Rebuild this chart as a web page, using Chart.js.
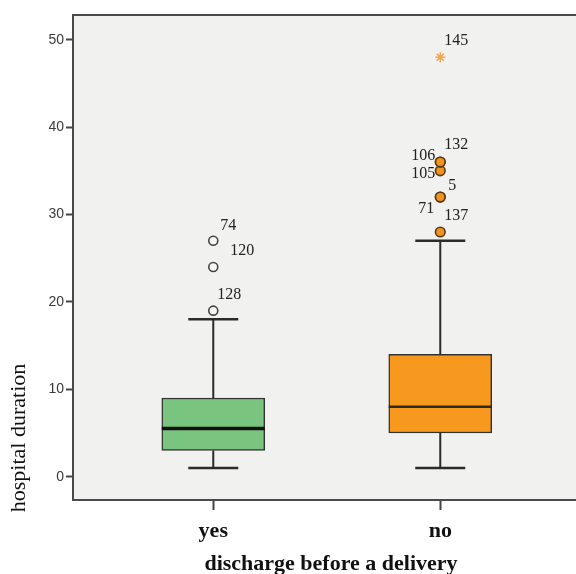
<!DOCTYPE html>
<html>
<head>
<meta charset="utf-8">
<script src="https://cdn.jsdelivr.net/npm/chart.js@4.4.1/dist/chart.umd.min.js"></script>
<style>
  html, body { margin: 0; padding: 0; background: #ffffff; overflow: hidden; }
  canvas { display: block; }
</style>
</head>
<body>
<canvas id="c" width="576" height="574" style="width:576px;height:574px"></canvas>
<script>
// ---- data ----
const categories   = ['yes', 'no'];
const whiskerLow   = [1, 1];
const q1           = [3, 5];
const median       = [5.5, 8];
const q3           = [9, 14];
const whiskerHigh  = [18, 27];

const outliersYes    = [19, 24, 27];
const outliersYesIds = ['128', '120', '74'];
const outliersNo     = [28, 32, 32, 35, 36, 36];
const outliersNoIds  = ['137', '71', '5', '105', '106', '132'];
const extremesNo     = [48];
const extremesNoIds  = ['145'];

const yTicks = [0, 10, 20, 30, 40, 50];

// label placement (pixel offsets from point, alignment) – styling only
const labelPlacement = {
  '128': [4, -16, 'left'], '120': [17, -16, 'left'], '74': [7, -15, 'left'],
  '137': [4, -16, 'left'], '71': [-6, 12, 'right'], '5': [8, -11, 'left'],
  '105': [-5, 3, 'right'], '106': [-5, -6, 'right'], '132': [4, -17, 'left'],
  '145': [4, -16, 'left']
};

const boxColors = ['#79c47e', '#f7981f'];
const catPos = categories.map((_, i) => i + 1);

const toPts = (vals, xi) => vals.map(v => ({ x: catPos[xi], y: v }));

const boxPlugin = {
  id: 'boxPlugin',
  beforeDraw(chart) {
    const { ctx, chartArea: a } = chart;
    ctx.save();
    ctx.fillStyle = '#f1f1f0';
    ctx.fillRect(a.left, a.top, a.right - a.left, a.bottom - a.top);
    ctx.restore();
  },
  afterDatasetsDraw(chart) {
    const { ctx, chartArea: a, scales: { x, y } } = chart;
    ctx.save();
    // top frame line
    ctx.strokeStyle = '#4a4a4a';
    ctx.lineWidth = 2;
    ctx.beginPath();
    ctx.moveTo(a.left - 1, a.top);
    ctx.lineTo(a.right, a.top);
    ctx.stroke();

    const capHalf = 25;
    const boxHalf = 51.5;
    categories.forEach((c, i) => {
      const cx = x.getPixelForValue(catPos[i]);
      ctx.strokeStyle = '#2b2b2b';
      ctx.lineWidth = 2;
      ctx.beginPath();
      ctx.moveTo(cx, y.getPixelForValue(whiskerLow[i]));
      ctx.lineTo(cx, y.getPixelForValue(q1[i]));
      ctx.moveTo(cx, y.getPixelForValue(q3[i]));
      ctx.lineTo(cx, y.getPixelForValue(whiskerHigh[i]));
      ctx.stroke();
      ctx.lineWidth = 2.5;
      ctx.beginPath();
      const yl = y.getPixelForValue(whiskerLow[i]);
      const yh = y.getPixelForValue(whiskerHigh[i]);
      ctx.moveTo(cx - capHalf, yl); ctx.lineTo(cx + capHalf, yl);
      ctx.moveTo(cx - capHalf, yh); ctx.lineTo(cx + capHalf, yh);
      ctx.stroke();
      // median
      ctx.strokeStyle = i === 0 ? '#111' : '#2b2b2b';
      ctx.lineWidth = i === 0 ? 3.5 : 2.5;
      const ym = y.getPixelForValue(median[i]);
      ctx.beginPath();
      ctx.moveTo(cx - boxHalf, ym); ctx.lineTo(cx + boxHalf, ym);
      ctx.stroke();
    });

    // outlier labels
    ctx.fillStyle = '#222';
    ctx.font = '16px "Liberation Serif", "DejaVu Serif", serif';
    ctx.textBaseline = 'middle';
    const drawLabels = (vals, ids, xi) => {
      vals.forEach((v, k) => {
        const px = x.getPixelForValue(catPos[xi]);
        const py = y.getPixelForValue(v);
        const p = labelPlacement[ids[k]];
        ctx.textAlign = p[2];
        ctx.fillText(ids[k], px + p[0], py + p[1]);
      });
    };
    drawLabels(outliersYes, outliersYesIds, 0);
    drawLabels(outliersNo, outliersNoIds, 1);
    drawLabels(extremesNo, extremesNoIds, 1);

    // axis titles
    ctx.fillStyle = '#111';
    ctx.textAlign = 'center';
    ctx.font = 'bold 22px "Liberation Serif", serif';
    ctx.fillText('discharge before a delivery', 331, 564);
    ctx.save();
    ctx.translate(19, 438);
    ctx.rotate(-Math.PI / 2);
    ctx.font = '22px "Liberation Serif", serif';
    ctx.fillText('hospital duration', 0, 0);
    ctx.restore();
    ctx.restore();
  }
};

new Chart(document.getElementById('c'), {
  data: {
    datasets: [
      {
        type: 'bar',
        data: categories.map((c, i) => ({ x: catPos[i], y: [q1[i], q3[i]] })),
        backgroundColor: boxColors,
        borderColor: '#333',
        borderWidth: 1.5,
        borderSkipped: false,
        barThickness: 103,
        order: 3
      },
      {
        type: 'scatter',
        data: toPts(outliersYes, 0),
        pointStyle: 'circle',
        pointRadius: 4.5,
        pointBackgroundColor: '#f6f6f6',
        pointBorderColor: '#444',
        pointBorderWidth: 1.6,
        order: 1
      },
      {
        type: 'scatter',
        data: toPts(outliersNo, 1),
        pointStyle: 'circle',
        pointRadius: 4.8,
        pointBackgroundColor: '#f29320',
        pointBorderColor: '#5a3a10',
        pointBorderWidth: 1.6,
        order: 1
      },
      {
        type: 'scatter',
        data: toPts(extremesNo, 1),
        pointStyle: 'star',
        pointRadius: 5,
        pointBorderColor: '#f5a54a',
        pointBackgroundColor: '#f5a54a',
        pointBorderWidth: 1.5,
        order: 1
      }
    ]
  },
  options: {
    responsive: false,
    animation: false,
    layout: { autoPadding: false, padding: { top: 15, left: 0, right: 0, bottom: 0 } },
    plugins: { legend: { display: false }, tooltip: { enabled: false } },
    scales: {
      x: {
        type: 'linear',
        offset: false,
        min: 0.382,
        max: 2.598,
        afterBuildTicks: s => { s.ticks = catPos.map(v => ({ value: v })); },
        afterFit: s => { s.height = 74; s.paddingRight = 0; s.paddingLeft = 0; },
        ticks: {
          callback: v => categories[v - 1] ?? '',
          color: '#111',
          font: { family: '"Liberation Serif", serif', size: 22, weight: 'bold' },
          padding: 8,
          maxRotation: 0,
          autoSkip: false
        },
        grid: { offset: false, drawOnChartArea: false, drawTicks: true, tickLength: 10, tickColor: '#444', tickWidth: 2 },
        border: { display: true, color: '#4a4a4a', width: 2 }
      },
      y: {
        type: 'linear',
        min: -2.67,
        max: 52.83,
        afterBuildTicks: s => { s.ticks = yTicks.map(v => ({ value: v })); },
        afterFit: s => { s.width = 73; s.paddingTop = 0; s.paddingBottom = 0; },
        ticks: {
          color: '#3a3a3a',
          font: { family: '"Liberation Sans", Arial, sans-serif', size: 14 },
          padding: 2
        },
        grid: { drawOnChartArea: false, drawTicks: true, tickLength: 7, tickColor: '#444', tickWidth: 2 },
        border: { display: true, color: '#4a4a4a', width: 2 }
      }
    }
  },
  plugins: [boxPlugin]
});
</script>
</body>
</html>
